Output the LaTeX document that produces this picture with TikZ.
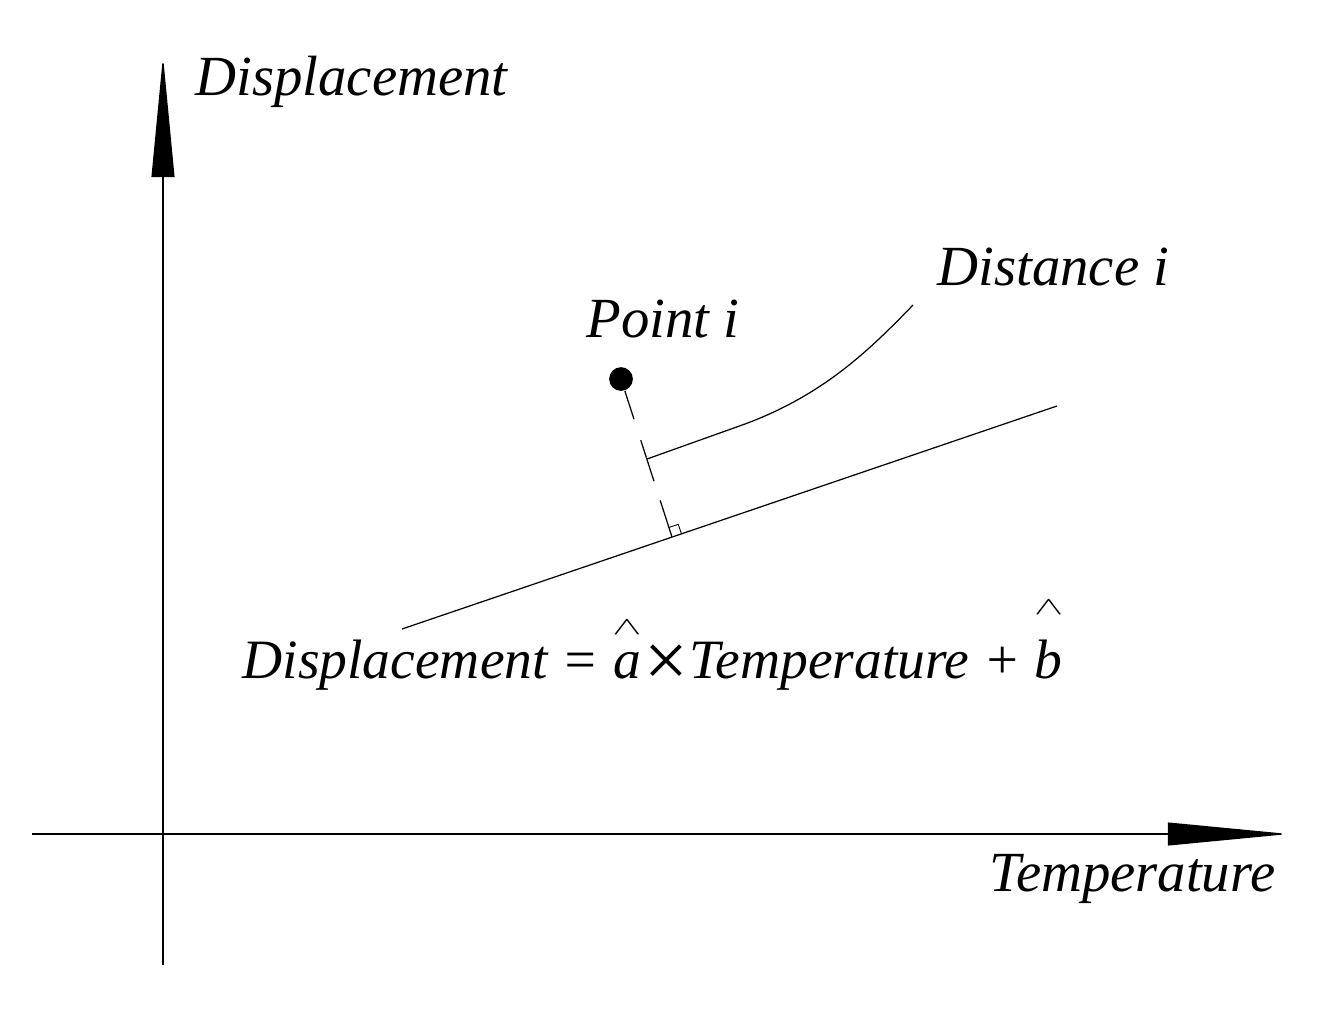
\documentclass[tikz,border=0pt]{standalone}
\usepackage{fontspec}
\setmainfont{Liberation Serif}
\usepackage{amsmath}
\usepackage{graphicx}
\usetikzlibrary{arrows.meta}

% a letter with a wide hat raised above it
\newcommand{\hatover}[2]{\ooalign{#2\cr\hidewidth\raisebox{#1}{\scalebox{1.2}[0.7]{\fontsize{22}{22}\selectfont$\wedge$}}\hidewidth\cr}}

\tikzset{
  axis/.style={line width=0.8pt, -{Triangle[length=69pt,width=13pt]}},
  lbl/.style={font=\fontsize{32.3}{37}\selectfont\itshape, inner sep=0pt, anchor=base west},
}

\begin{document}
\begin{tikzpicture}[x=0.02cm,y=-0.02cm,line width=0.7pt]
    \useasboundingbox (0,0) rectangle (1326,1015);

    % Draw the axes
    \coordinate (xs) at (32,834);
    \coordinate (xe) at (1289,834);
    \coordinate (ys) at (163,965);
    \coordinate (ye) at (163,56);
    \draw[axis] (xs) -- (xe);
    \draw[axis] (ys) -- (ye);

    % Labels for the axes
    \node[lbl] (ylabel) at (195,95) {Displacement};
    \node[lbl] (xlabel) at (989,891) {Temperature};

    % Draw the fitted line
    \coordinate (fitA) at (402,629);
    \coordinate (fitB) at (1057,406);
    \draw (fitA) -- (fitB);
    \node[lbl, font=\fontsize{31.6}{37}\selectfont\itshape] (fit) at (242,678) {Displacement = \hatover{25pt}{a}\kern-1pt\raisebox{-5pt}{\scalebox{1.4}{×}}\kern-1pt Temperature + \hatover{36pt}{b}};

    % The point and its distance to the line
    \node[circle, fill, inner sep=0pt, minimum size=13.5pt] (pt) at (621,379) {};
    \node[lbl] (ptlabel) at (586,337) {Point i};
    \coordinate (foot) at (672,537);
    \draw[dash pattern=on 17pt off 12.5pt on 24.5pt off 11.5pt on 30pt] (pt) -- (foot);
    \draw[line width=0.5pt] (668.8,527.5) -- (678.2,524.3) -- (681.5,533.8);

    % Leader for the distance
    \coordinate (tick) at (647,459);
    \coordinate (lead) at (913,305);
    \node[lbl] (dlabel) at (937,285) {Distance i};
    \draw (tick) -- (745,424) .. controls (820,396) and (865,355) .. (lead);

\end{tikzpicture}
\end{document}
